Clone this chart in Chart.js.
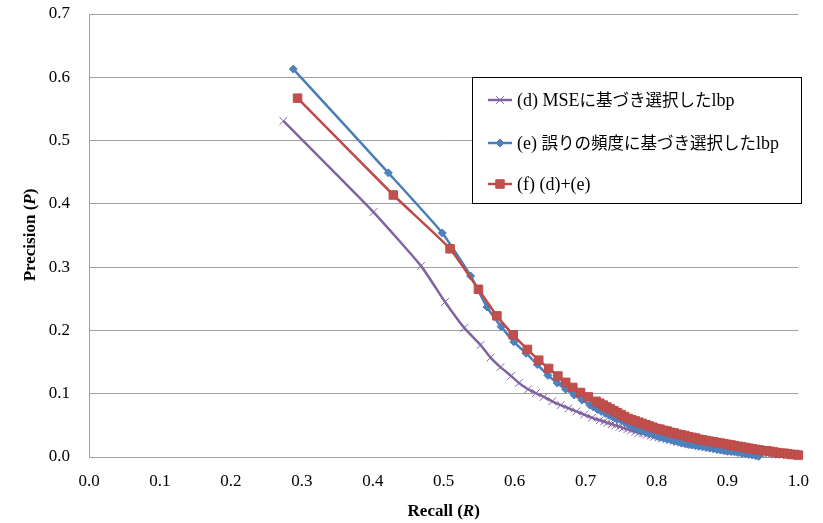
<!DOCTYPE html>
<html>
<head>
<meta charset="utf-8">
<script src="https://cdn.jsdelivr.net/npm/chart.js@4"></script>
<style>
  body { margin: 0; background: #fff; }
</style>
</head>
<body>
<canvas id="pr-chart" width="823" height="523"></canvas>
<script>
// (d) MSE based selection
const recallD = [0.274, 0.401, 0.468, 0.502, 0.529, 0.552, 0.566, 0.580, 0.595, 0.606, 0.619, 0.630, 0.641, 0.653, 0.665, 0.676, 0.687, 0.698, 0.709, 0.720, 0.726, 0.731, 0.737, 0.742, 0.748, 0.753, 0.759, 0.764, 0.770, 0.775, 0.781, 0.786, 0.792, 0.797, 0.803, 0.808, 0.814, 0.819, 0.825, 0.830, 0.836, 0.841, 0.847, 0.852, 0.858, 0.863, 0.869, 0.874, 0.880, 0.885, 0.891, 0.896, 0.902, 0.907, 0.913, 0.918, 0.924, 0.929, 0.935, 0.940, 0.946, 0.951, 0.957, 0.962, 0.968, 0.973, 0.979, 0.984, 0.990, 0.995];
const precisionD = [0.531, 0.387, 0.302, 0.245, 0.204, 0.177, 0.157, 0.142, 0.128, 0.117, 0.107, 0.101, 0.095, 0.088, 0.082, 0.077, 0.072, 0.067, 0.062, 0.058, 0.056, 0.054, 0.052, 0.050, 0.048, 0.046, 0.044, 0.042, 0.040, 0.038, 0.037, 0.035, 0.034, 0.032, 0.031, 0.030, 0.028, 0.027, 0.026, 0.024, 0.023, 0.022, 0.020, 0.019, 0.018, 0.017, 0.016, 0.015, 0.014, 0.013, 0.012, 0.011, 0.010, 0.010, 0.009, 0.008, 0.008, 0.007, 0.007, 0.006, 0.006, 0.005, 0.005, 0.005, 0.004, 0.004, 0.004, 0.003, 0.003, 0.003];

// (e) error frequency based selection
const recallE = [0.288, 0.422, 0.498, 0.538, 0.561, 0.581, 0.599, 0.616, 0.632, 0.647, 0.660, 0.672, 0.684, 0.695, 0.706, 0.711, 0.717, 0.722, 0.728, 0.733, 0.739, 0.744, 0.750, 0.755, 0.760, 0.765, 0.770, 0.775, 0.780, 0.785, 0.790, 0.795, 0.800, 0.805, 0.810, 0.815, 0.820, 0.825, 0.830, 0.835, 0.840, 0.845, 0.850, 0.855, 0.860, 0.865, 0.870, 0.875, 0.880, 0.885, 0.890, 0.895, 0.900, 0.905, 0.910, 0.915, 0.920, 0.925, 0.930, 0.935, 0.940, 0.944];
const precisionE = [0.613, 0.449, 0.354, 0.286, 0.237, 0.206, 0.182, 0.164, 0.146, 0.129, 0.117, 0.107, 0.098, 0.090, 0.082, 0.079, 0.075, 0.072, 0.069, 0.066, 0.063, 0.060, 0.058, 0.055, 0.052, 0.049, 0.046, 0.043, 0.041, 0.039, 0.037, 0.035, 0.033, 0.031, 0.030, 0.028, 0.027, 0.025, 0.024, 0.022, 0.021, 0.020, 0.019, 0.018, 0.017, 0.016, 0.015, 0.014, 0.013, 0.012, 0.011, 0.010, 0.009, 0.0085, 0.008, 0.007, 0.006, 0.005, 0.004, 0.003, 0.002, 0.001];

// (f) (d)+(e)
const recallF = [0.294, 0.429, 0.509, 0.549, 0.575, 0.598, 0.618, 0.634, 0.648, 0.661, 0.672, 0.682, 0.693, 0.704, 0.715, 0.720, 0.725, 0.730, 0.735, 0.740, 0.745, 0.750, 0.755, 0.760, 0.765, 0.770, 0.775, 0.780, 0.785, 0.790, 0.795, 0.800, 0.805, 0.810, 0.815, 0.820, 0.825, 0.830, 0.835, 0.840, 0.845, 0.850, 0.855, 0.860, 0.865, 0.870, 0.875, 0.880, 0.885, 0.890, 0.895, 0.900, 0.905, 0.910, 0.915, 0.920, 0.925, 0.930, 0.935, 0.940, 0.945, 0.950, 0.955, 0.960, 0.965, 0.970, 0.975, 0.980, 0.985, 0.990, 0.995, 1.000];
const precisionF = [0.567, 0.414, 0.329, 0.265, 0.223, 0.193, 0.170, 0.153, 0.140, 0.128, 0.118, 0.110, 0.102, 0.095, 0.088, 0.085, 0.082, 0.079, 0.076, 0.073, 0.070, 0.067, 0.064, 0.061, 0.059, 0.057, 0.055, 0.053, 0.051, 0.049, 0.047, 0.045, 0.044, 0.042, 0.041, 0.039, 0.038, 0.036, 0.035, 0.034, 0.032, 0.031, 0.030, 0.028, 0.027, 0.026, 0.025, 0.024, 0.023, 0.022, 0.021, 0.020, 0.019, 0.018, 0.017, 0.016, 0.015, 0.014, 0.013, 0.012, 0.011, 0.010, 0.010, 0.009, 0.008, 0.007, 0.006, 0.006, 0.005, 0.004, 0.004, 0.003];

const seriesLabels = ['(d) MSEに基づき選択したlbp', '(e) 誤りの頻度に基づき選択したlbp', '(f) (d)+(e)'];
const xTicks = [0.0, 0.1, 0.2, 0.3, 0.4, 0.5, 0.6, 0.7, 0.8, 0.9, 1.0];
const yTicks = [0.0, 0.1, 0.2, 0.3, 0.4, 0.5, 0.6, 0.7];

const toPoints = (xs, ys) => xs.map((x, i) => ({ x: x, y: ys[i] }));

const serif = '"Liberation Serif", "Times New Roman", serif';
const latinLegendFont = '18px ' + serif;
const cjkLegendFont = '16.5px "Noto Sans CJK JP", sans-serif';
const gridColor = '#a0a0a0';

// axis titles with italic variable + boxed legend inside the plot
const overlayPlugin = {
  id: 'overlay',
  afterDraw(chart) {
    const ctx = chart.ctx;
    const area = chart.chartArea;

    const drawMixed = (parts, cx, cy) => {
      ctx.textBaseline = 'middle';
      ctx.textAlign = 'left';
      let total = 0;
      parts.forEach(p => {
        ctx.font = (p.italic ? 'italic ' : '') + 'bold 17px ' + serif;
        total += ctx.measureText(p.text).width;
      });
      let x = cx - total / 2;
      parts.forEach(p => {
        ctx.font = (p.italic ? 'italic ' : '') + 'bold 17px ' + serif;
        ctx.fillText(p.text, x, cy);
        x += ctx.measureText(p.text).width;
      });
    };

    ctx.save();
    ctx.fillStyle = '#000';
    drawMixed([{ text: 'Recall (' }, { text: 'R', italic: true }, { text: ')' }], (area.left + area.right) / 2, 512);
    ctx.translate(31, 235);
    ctx.rotate(-Math.PI / 2);
    drawMixed([{ text: 'Precision (' }, { text: 'P', italic: true }, { text: ')' }], 0, 0);
    ctx.restore();

    // legend
    const box = { x: 472.5, y: 77.5, w: 329, h: 126 };
    ctx.save();
    ctx.fillStyle = '#fff';
    ctx.fillRect(box.x, box.y, box.w, box.h);
    ctx.strokeStyle = '#000';
    ctx.lineWidth = 1;
    ctx.strokeRect(box.x, box.y, box.w, box.h);
    const rows = [100, 143, 184];
    chart.data.datasets.forEach((ds, i) => {
      const y = rows[i];
      ctx.strokeStyle = ds.borderColor;
      ctx.lineWidth = ds.borderWidth;
      ctx.beginPath();
      ctx.moveTo(488, y);
      ctx.lineTo(512, y);
      ctx.stroke();
      ctx.fillStyle = ds.pointBackgroundColor;
      ctx.strokeStyle = ds.pointBorderColor;
      ctx.lineWidth = ds.pointBorderWidth;
      Chart.helpers.drawPoint(ctx, { pointStyle: ds.pointStyle, radius: ds.pointRadius, borderWidth: ds.pointBorderWidth, rotation: 0 }, 500, y);

      // latin runs in serif, japanese runs in CJK font
      ctx.fillStyle = '#000';
      ctx.textAlign = 'left';
      ctx.textBaseline = 'middle';
      let x = 517;
      ds.label.split(/([\u3040-\u30ff\u4e00-\u9fff]+)/).forEach(run => {
        if (!run) return;
        const cjk = /[\u3040-\u30ff\u4e00-\u9fff]/.test(run);
        ctx.font = cjk ? cjkLegendFont : latinLegendFont;
        ctx.fillText(run, x, y + (cjk ? 0 : 1));
        x += ctx.measureText(run).width;
      });
    });
    ctx.restore();
  }
};

new Chart(document.getElementById('pr-chart'), {
  type: 'line',
  data: {
    datasets: [{
      label: seriesLabels[0],
      data: toPoints(recallD, precisionD),
      borderColor: '#8064a2',
      borderWidth: 2.5,
      pointStyle: 'crossRot',
      pointRadius: 5.5,
      pointBorderColor: '#8064a2',
      pointBackgroundColor: '#8064a2',
      pointBorderWidth: 1,
      tension: 0.15,
      order: 3,
      clip: 8
    }, {
      label: seriesLabels[1],
      data: toPoints(recallE, precisionE),
      borderColor: '#4a7ebb',
      borderWidth: 2.5,
      pointStyle: 'rectRot',
      pointRadius: 4,
      pointBorderColor: '#4a7ebb',
      pointBackgroundColor: '#4f81bd',
      pointBorderWidth: 1,
      tension: 0.15,
      order: 2,
      clip: 8
    }, {
      label: seriesLabels[2],
      data: toPoints(recallF, precisionF),
      borderColor: '#be4b48',
      borderWidth: 2.5,
      pointStyle: 'rect',
      pointRadius: 6,
      pointBorderColor: '#be4b48',
      pointBackgroundColor: '#c0504d',
      pointBorderWidth: 1,
      tension: 0.15,
      order: 1,
      clip: 8
    }]
  },
  options: {
    responsive: false,
    animation: false,
    layout: {
      padding: { left: 0, right: 23, top: 14, bottom: 0 }
    },
    plugins: {
      legend: { display: false },
      tooltip: { enabled: false }
    },
    scales: {
      x: {
        type: 'linear',
        min: 0,
        max: 1,
        afterFit: (scale) => { scale.height = 66; },
        afterBuildTicks: (scale) => { scale.ticks = xTicks.map(v => ({ value: v })); },
        grid: { display: false, drawTicks: false },
        border: { display: true, color: gridColor, width: 1 },
        ticks: {
          padding: 14,
          color: '#000',
          font: { family: serif, size: 17 },
          callback: (v) => v.toFixed(1)
        }
      },
      y: {
        min: 0,
        max: 0.7,
        afterFit: (scale) => {
          scale.width = 89;
          // tick padding is only horizontal spacing here, keep it out of the vertical layout
          scale.paddingTop = 10;
          scale.paddingBottom = 10;
        },
        afterBuildTicks: (scale) => { scale.ticks = yTicks.map(v => ({ value: v })); },
        grid: { color: gridColor, drawTicks: false, lineWidth: 1 },
        border: { display: true, color: gridColor, width: 1 },
        ticks: {
          padding: 19,
          color: '#000',
          font: { family: serif, size: 17 },
          callback: (v) => v.toFixed(1)
        }
      }
    }
  },
  plugins: [overlayPlugin]
});
</script>
</body>
</html>
